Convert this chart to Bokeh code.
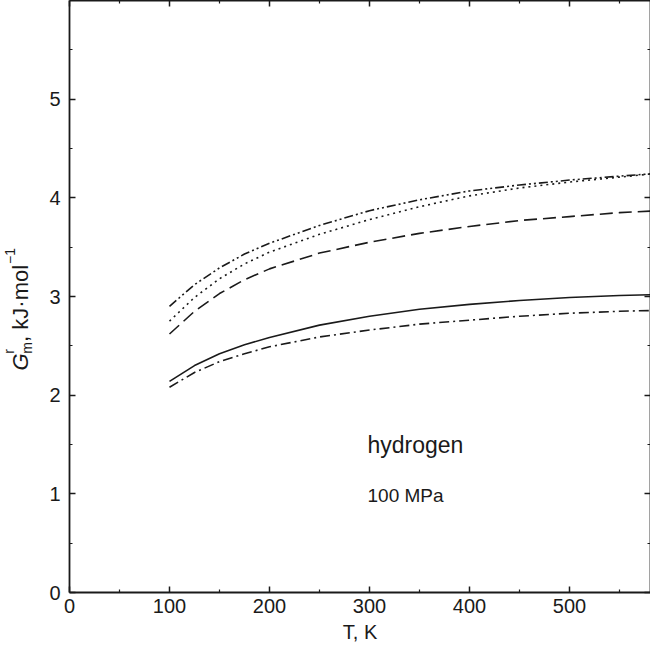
import math
from bokeh.plotting import figure
from bokeh.layouts import row
from bokeh.models import LinearAxis, Label, Range1d, FixedTicker, CustomJSTickFormatter
from bokeh.core.properties import value
from bokeh.embed import file_html
from bokeh.resources import INLINE

# ---- data ----
T = [100, 125, 150, 175, 200, 250, 300, 350, 400, 450, 500, 550, 590]
g_dashdotdot = [2.90, 3.12, 3.29, 3.43, 3.54, 3.72, 3.87, 3.98, 4.07, 4.13, 4.18, 4.22, 4.25]
g_dotted = [2.75, 2.99, 3.18, 3.33, 3.45, 3.63, 3.78, 3.91, 4.02, 4.10, 4.16, 4.21, 4.25]
g_dashed = [2.62, 2.85, 3.03, 3.17, 3.28, 3.44, 3.55, 3.64, 3.71, 3.77, 3.81, 3.85, 3.87]
g_solid = [2.14, 2.30, 2.42, 2.51, 2.585, 2.71, 2.80, 2.87, 2.92, 2.96, 2.99, 3.01, 3.02]
g_dashdot = [2.08, 2.23, 2.34, 2.42, 2.49, 2.59, 2.66, 2.72, 2.76, 2.80, 2.83, 2.85, 2.86]

x_ticks = [0, 100, 200, 300, 400, 500]
y_ticks = [0, 1, 2, 3, 4, 5]
x_minor = [50, 150, 250, 350, 450, 550]
y_minor = [0.5, 1.5, 2.5, 3.5, 4.5, 5.5]

FONT = "Liberation Sans"
col = "#1a1a1a"

H = 650
BOTTOM = 58

# ---------------- main plot ----------------
p = figure(width=610, height=H, output_backend="svg", toolbar_location=None,
           x_range=Range1d(0, 581), y_range=Range1d(0, 6),
           min_border_left=29, min_border_right=0, min_border_top=0,
           min_border_bottom=BOTTOM, x_axis_location=None, y_axis_location=None)
p.outline_line_color = None
p.xgrid.visible = False
p.ygrid.visible = False
p.background_fill_color = "white"
p.border_fill_color = "white"


def style_axis(ax, ticks, minor, labels=True):
    ax.ticker = FixedTicker(ticks=ticks, minor_ticks=minor)
    ax.axis_line_color = col
    ax.axis_line_width = 1.8
    ax.major_tick_line_color = col
    ax.major_tick_line_width = 1.5
    ax.minor_tick_line_color = col
    ax.minor_tick_line_width = 1.2
    ax.major_tick_in = 6
    ax.major_tick_out = 0
    ax.minor_tick_in = 3
    ax.minor_tick_out = 0
    ax.axis_label_standoff = 0
    if labels:
        ax.major_label_text_font = FONT
        ax.major_label_text_font_size = "20px"
        ax.major_label_text_color = col
    else:
        ax.formatter = CustomJSTickFormatter(code="return ''")
        ax.major_label_standoff = 0


xb = LinearAxis(axis_label="T, K")
style_axis(xb, x_ticks, x_minor)
xb.major_label_standoff = 6
xb.axis_label_standoff = 5
xb.axis_label_text_font = FONT
xb.axis_label_text_font_size = "20px"
xb.axis_label_text_font_style = "normal"
xb.axis_label_text_color = col
p.add_layout(xb, "below")

yl = LinearAxis()
style_axis(yl, y_ticks, y_minor)
yl.major_label_standoff = 9
p.add_layout(yl, "left")

xt = LinearAxis()
style_axis(xt, x_ticks, x_minor, labels=False)
p.add_layout(xt, "above")

yr = LinearAxis()
style_axis(yr, y_ticks, y_minor, labels=False)
p.add_layout(yr, "right")

lw = 1.6
p.line(T, g_dashdotdot, line_color=col, line_width=lw, line_dash="9 3 2 3 2 3")
p.line(T, g_dotted, line_color=col, line_width=lw, line_dash="2 4")
p.line(T, g_dashed, line_color=col, line_width=lw, line_dash="13 6")
p.line(T, g_solid, line_color=col, line_width=lw)
p.line(T, g_dashdot, line_color=col, line_width=lw, line_dash="10 4 2 4")

p.add_layout(Label(x=298, y=1.50, text="hydrogen", text_font=FONT,
                   text_font_size="23px", text_color=col, text_baseline="alphabetic"))
p.add_layout(Label(x=298, y=0.98, text="100 MPa", text_font=FONT,
                   text_font_size="19px", text_color=col, text_baseline="alphabetic"))

# ---------------- y-axis title panel: same height, borders and y range as the plot ----------------
ly = figure(width=40, height=H, output_backend="svg", toolbar_location=None,
            x_range=Range1d(0, 40), y_range=p.y_range,
            min_border_left=0, min_border_right=0, min_border_top=0,
            min_border_bottom=BOTTOM, x_axis_location=None, y_axis_location=None)
ly.outline_line_color = None
ly.xgrid.visible = False
ly.ygrid.visible = False
ly.background_fill_color = "white"
ly.border_fill_color = "white"


def put(f, x, y, s, size, italic=False, angle=0.0):
    f.text(x=[x], y=[y], text=[s], angle=angle, text_font=value(FONT),
           text_font_size=value(size), text_font_style="italic" if italic else "normal",
           text_color=col, text_baseline="alphabetic", text_align="left")


ang = math.pi / 2
bx = 20
put(ly, bx, 2.25, "G", "22px", italic=True, angle=ang)
put(ly, bx - 12, 2.42, "r", "14px", angle=ang)
put(ly, bx + 6, 2.42, "m", "14px", angle=ang)
put(ly, bx, 2.54, ", kJ·mol", "22px", angle=ang)
put(ly, bx - 11, 3.33, "−1", "14px", angle=ang)

layout = row(ly, p, spacing=0)

open("out.html", "w").write(file_html(layout, INLINE))
